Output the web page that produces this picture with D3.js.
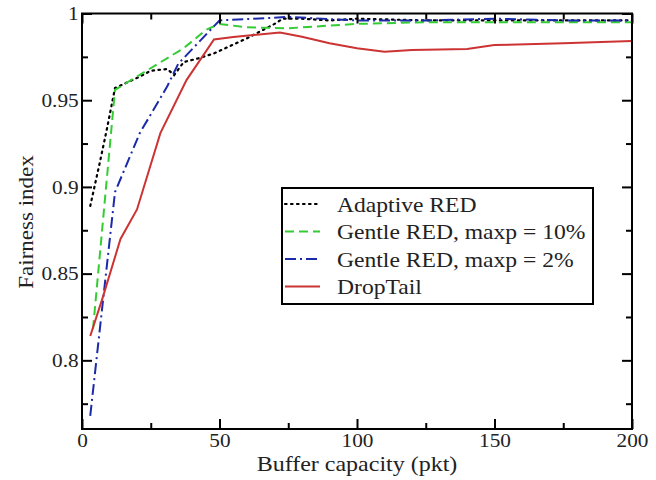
<!DOCTYPE html>
<html><head><meta charset="utf-8">
<script src="https://cdn.jsdelivr.net/npm/d3@7"></script>
<style>body{margin:0;background:#fff}svg{display:block}</style>
</head><body>
<svg id="c" width="656" height="480"></svg>
<script>
const xTicksMajor = [0, 50, 100, 150, 200];
const xTicksMinor = [25, 75, 125, 175];
const yTicksMajor = [0.8, 0.85, 0.9, 0.95, 1];
const yTicksMinor = [0.775, 0.825, 0.875, 0.925, 0.975];
const yTickLabels = ["0.8", "0.85", "0.9", "0.95", "1"];

const adaptiveX = [3, 6.6, 9, 12, 21, 25, 31, 33.5, 37, 42, 48, 60, 70, 73, 80, 90, 100, 125, 150, 175, 200];
const adaptiveY = [0.889, 0.915, 0.933, 0.957, 0.9636, 0.967, 0.968, 0.9645, 0.972, 0.974, 0.977, 0.9857, 0.994, 0.997, 0.997, 0.996, 0.997, 0.996, 0.996, 0.996, 0.996];
const gentle10X = [4, 12, 37, 45, 50, 60, 75, 100, 125, 150, 175, 200];
const gentle10Y = [0.818, 0.956, 0.980, 0.9905, 0.994, 0.992, 0.9915, 0.994, 0.995, 0.995, 0.995, 0.995];
const gentle2X = [3, 12, 21, 31, 35, 45, 50, 75, 100, 125, 150, 175, 200];
const gentle2Y = [0.768, 0.897, 0.931, 0.958, 0.971, 0.9877, 0.996, 0.998, 0.996, 0.996, 0.997, 0.996, 0.996];
const dropX = [3, 7.5, 14, 20, 28.5, 38, 48, 55, 72, 80, 90, 100, 110, 120, 140, 150, 175, 200];
const dropY = [0.814, 0.836, 0.870, 0.887, 0.931, 0.9616, 0.985, 0.9865, 0.989, 0.9866, 0.9828, 0.980, 0.978, 0.979, 0.9795, 0.9818, 0.9828, 0.9841];

const seriesNames = ["Adaptive RED", "Gentle RED, maxp = 10%", "Gentle RED, maxp = 2%", "DropTail"];
const seriesX = [adaptiveX, gentle10X, gentle2X, dropX];
const seriesY = [adaptiveY, gentle10Y, gentle2Y, dropY];
const colors = ["#000000", "#33cc33", "#1a2aa8", "#cc3333"];
const dashes = ["1.6,4.4", "9,5", "11,4,2,4", null];

const svg = d3.select("#c");
const L = 82, R = 632, T = 13.5, B = 429;
const x = d3.scaleLinear().domain([0, 200]).range([L, R]);
const y = d3.scaleLinear().domain([0.7604, 1]).range([B, T]);
const font = "'Liberation Serif', 'Times New Roman', serif";
const txt = "#222";

svg.append("clipPath").attr("id", "pc").append("rect")
  .attr("x", L).attr("y", T - 2).attr("width", R - L).attr("height", B - T + 2);

const g = svg.append("g").attr("clip-path", "url(#pc)");
seriesX.forEach((xs, i) => {
  const pts = xs.map((v, j) => [v, seriesY[i][j]]);
  const line = d3.line().x(d => x(d[0])).y(d => y(d[1]));
  const p = g.append("path").attr("d", line(pts)).attr("fill", "none")
    .attr("stroke", colors[i]).attr("stroke-width", i === 0 ? 2.2 : 2);
  if (dashes[i]) p.attr("stroke-dasharray", dashes[i]);
  if (i === 0) p.attr("stroke-linecap", "round");
});

function ax(axisFn, scale, major, minor, transform, labels) {
  const a1 = axisFn(scale).tickValues(major).tickSizeInner(-10).tickSizeOuter(0);
  if (labels) a1.tickFormat((d, i) => labels[i]); else a1.tickFormat("");
  const ga = svg.append("g").attr("transform", transform).call(a1);
  const a2 = axisFn(scale).tickValues(minor).tickSizeInner(-6).tickSizeOuter(0).tickFormat("");
  const gb = svg.append("g").attr("transform", transform).call(a2);
  [ga, gb].forEach(s => {
    s.select(".domain").remove();
    s.selectAll(".tick line").attr("stroke", "#000").attr("stroke-width", 2);
  });
  ga.selectAll("text").attr("font-family", font).attr("font-size", 19).attr("fill", txt)
    .attr("transform", "scale(1.12,1)");
  return ga;
}
const bx = ax(d3.axisBottom, x, xTicksMajor, xTicksMinor, `translate(0,${B})`, xTicksMajor.map(String));
bx.selectAll("text").attr("y", 5);
ax(d3.axisTop, x, xTicksMajor, xTicksMinor, `translate(0,${T})`, null);
const ly = ax(d3.axisLeft, y, yTicksMajor, yTicksMinor, `translate(${L},0)`, yTickLabels);
ly.selectAll("text").attr("x", -3);
ax(d3.axisRight, y, yTicksMajor, yTicksMinor, `translate(${R},0)`, null);

svg.append("rect").attr("x", L).attr("y", T).attr("width", R - L).attr("height", B - T)
  .attr("fill", "none").attr("stroke", "#000").attr("stroke-width", 2);

svg.append("text").attr("transform", "translate(357,471) scale(1.2,1)").attr("text-anchor", "middle")
  .attr("font-family", font).attr("font-size", 20).attr("fill", txt).text("Buffer capacity (pkt)");
svg.append("text").attr("transform", "translate(33,222) rotate(-90) scale(1.15,1)").attr("text-anchor", "middle")
  .attr("font-family", font).attr("font-size", 20).attr("fill", txt).text("Fairness index");

const lg = svg.append("g");
lg.append("rect").attr("x", 282).attr("y", 188).attr("width", 311).attr("height", 116)
  .attr("fill", "#fff").attr("stroke", "#000").attr("stroke-width", 2);
seriesNames.forEach((n, i) => {
  const cy = 204 + i * 27.5;
  const l = lg.append("line").attr("x1", 285).attr("x2", 320).attr("y1", cy).attr("y2", cy)
    .attr("stroke", colors[i]).attr("stroke-width", i === 0 ? 2.2 : 2);
  if (dashes[i]) l.attr("stroke-dasharray", dashes[i]);
  if (i === 0) l.attr("stroke-linecap", "round");
  lg.append("text").attr("transform", `translate(337,${cy + 7.5}) scale(1.18,1)`).attr("font-family", font)
    .attr("font-size", 20).attr("fill", txt).text(n);
});
</script>
</body></html>
